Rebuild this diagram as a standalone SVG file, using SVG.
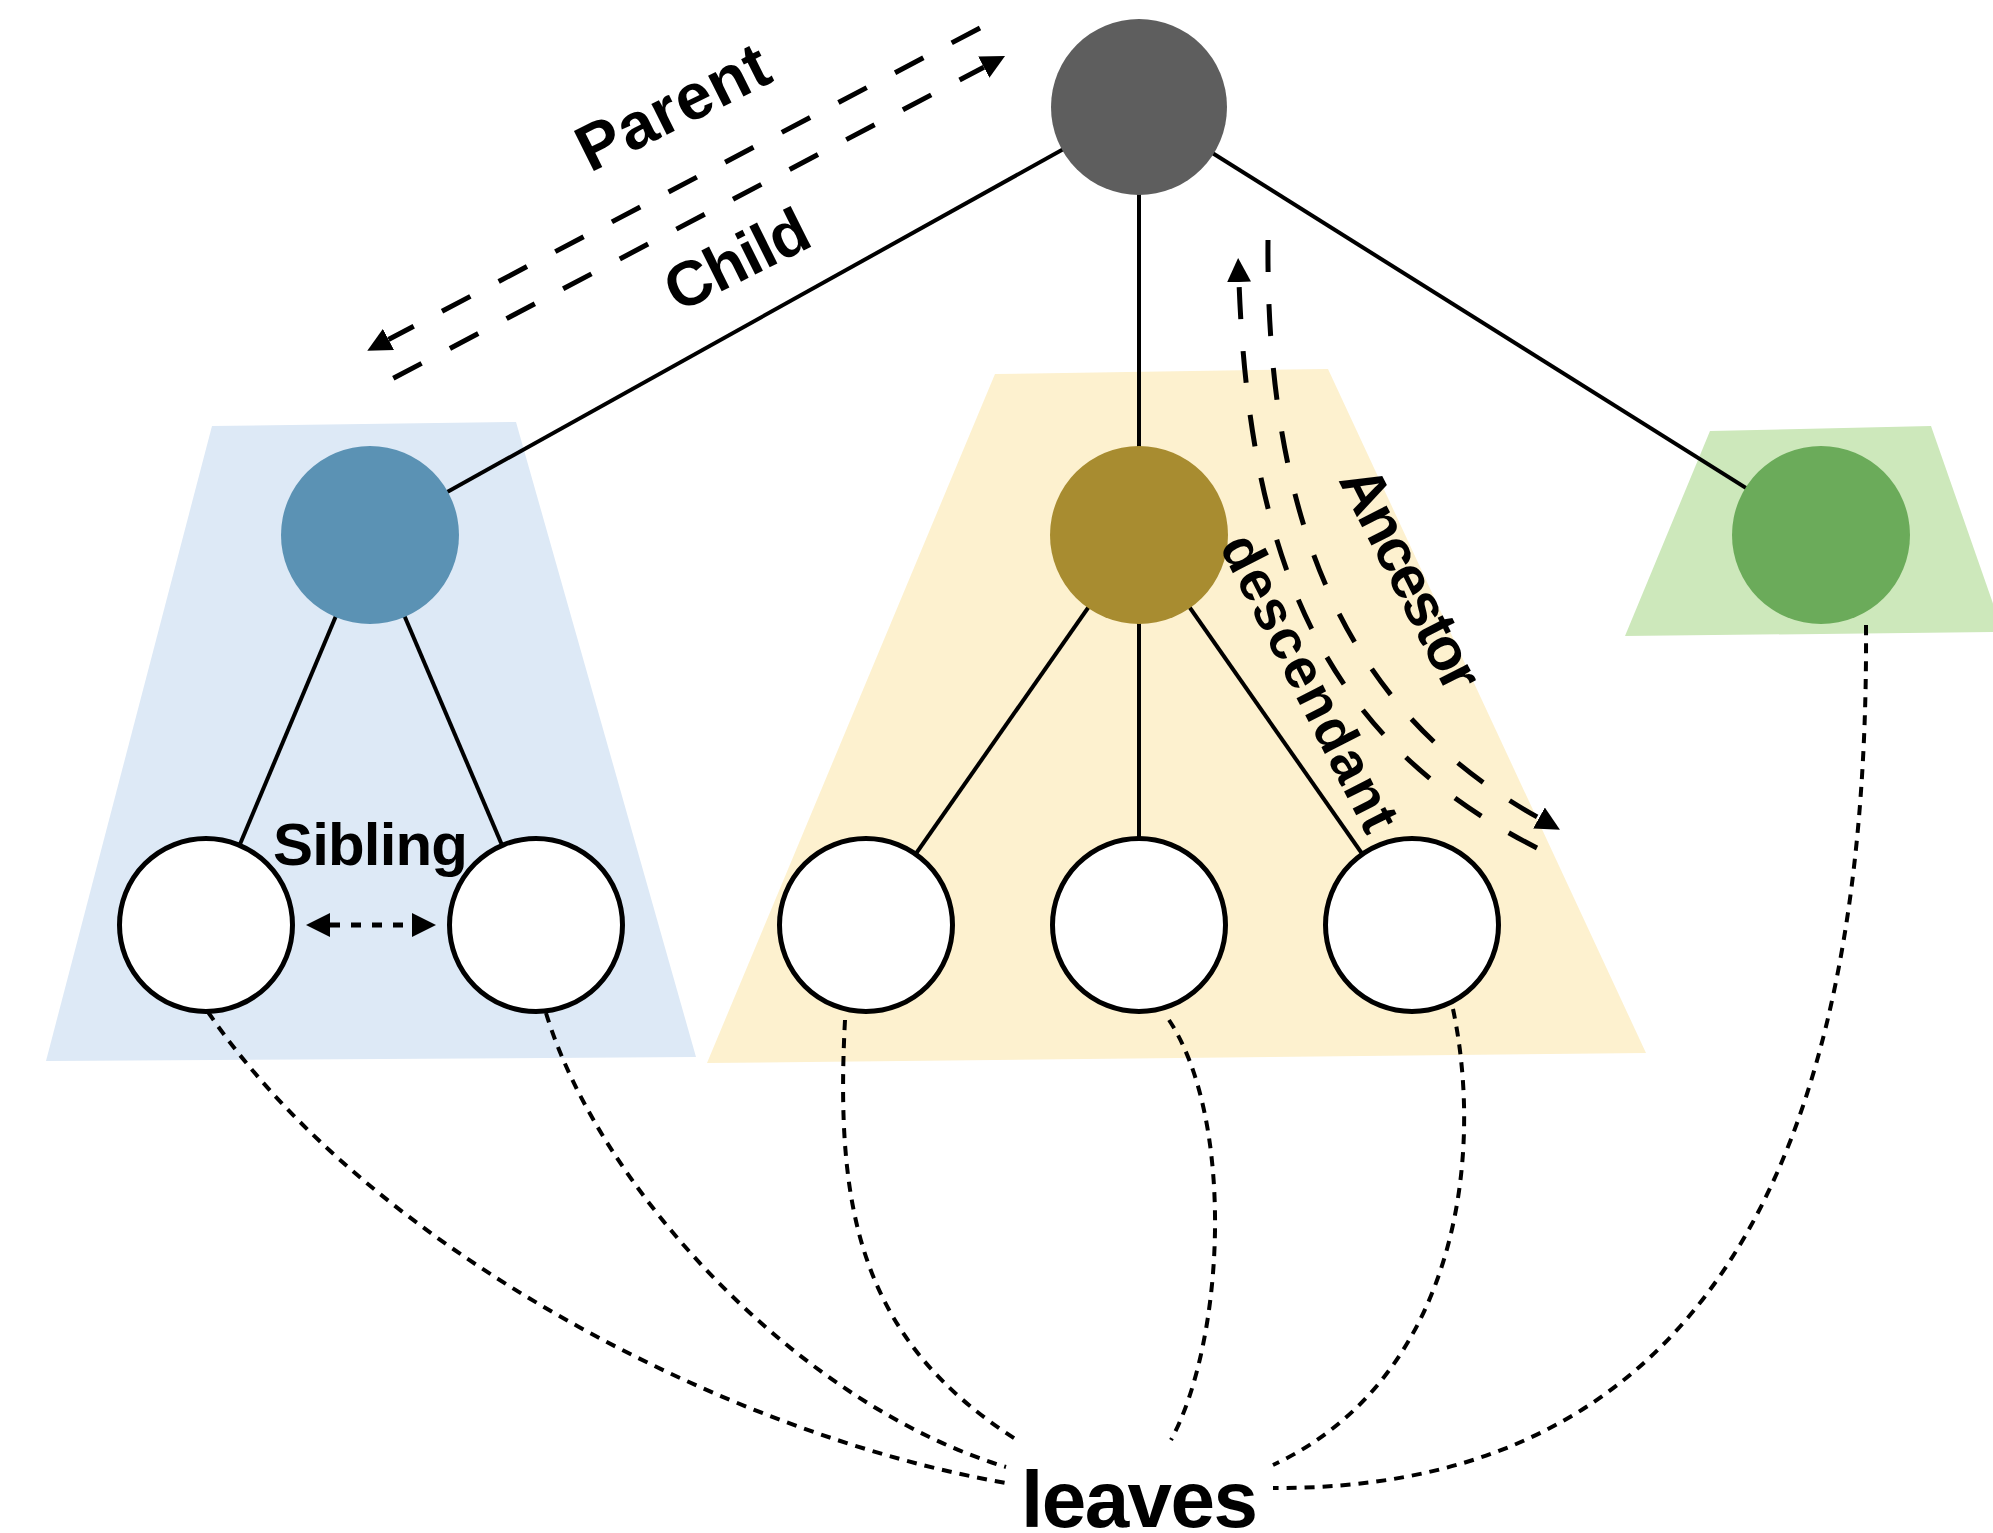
<svg xmlns="http://www.w3.org/2000/svg" width="1993" height="1533" viewBox="0 0 1993 1533">
<defs>
<marker id="arrow" markerUnits="userSpaceOnUse" markerWidth="24" markerHeight="24" viewBox="0 0 24 24" refX="0" refY="12" orient="auto-start-reverse"><path d="M0,0 L24,12 L0,24 z" fill="#000"/></marker>
</defs>
<style>
.edge{stroke:#000;stroke-width:4;fill:none}
.rel{stroke:#000;stroke-width:5;fill:none;stroke-dasharray:32 32}
.leafline{stroke:#000;stroke-width:4;fill:none;stroke-dasharray:10 8}
.sib{stroke:#000;stroke-width:5;fill:none;stroke-dasharray:10 11}
.leaf{fill:#fff;stroke:#000;stroke-width:5}
.lbl{font-family:"Liberation Sans",Arial,Helvetica,sans-serif;font-weight:bold;fill:#000}
</style>
<rect width="1993" height="1533" fill="#fff"/>
<g id="regions">
<polygon id="region-blue" points="212,426 516,422 696,1057 46,1061" fill="#dde9f6"/>
<polygon id="region-gold" points="995,374 1328,369 1646,1053 707,1063" fill="#fdf1cf"/>
<polygon id="region-green" points="1710,431 1931,426 2003,632 1625,636" fill="#cde8bb"/>
</g>
<g id="connectors">
<line class="edge" x1="1139" y1="107" x2="370" y2="535"/>
<line class="edge" x1="1139" y1="107" x2="1139" y2="535"/>
<line class="edge" x1="1139" y1="107" x2="1821" y2="535"/>
<line class="edge" x1="370" y1="535" x2="206" y2="925"/>
<line class="edge" x1="370" y1="535" x2="536" y2="925"/>
<line class="edge" x1="1139" y1="535" x2="866" y2="925"/>
<line class="edge" x1="1139" y1="535" x2="1139" y2="925"/>
<line class="edge" x1="1139" y1="535" x2="1412" y2="925"/>
<path class="rel" d="M980,28 L388.5,339.5" marker-end="url(#arrow)"/>
<path class="rel" d="M393.3,378.3 L983.8,67.2" marker-end="url(#arrow)"/>
<path class="rel" d="M1537,848 C1335,745 1250,580 1239,282" marker-end="url(#arrow)"/>
<path class="rel" d="M1268,240 C1265,580 1385,732 1539,818" marker-end="url(#arrow)"/>
<path class="sib" d="M330,925 L412,925" marker-start="url(#arrow)" marker-end="url(#arrow)"/>
<path class="leafline" d="M208,1012 C370,1250 730,1435 1006,1483"/>
<path class="leafline" d="M546,1013 C600,1190 800,1405 1006,1467"/>
<path class="leafline" d="M845,1020 C835,1210 860,1340 1017,1440"/>
<path class="leafline" d="M1169,1020 C1235,1120 1225,1340 1171,1440"/>
<path class="leafline" d="M1453,1009 C1485,1160 1455,1380 1273,1465"/>
<path class="leafline" d="M1866,625 C1870,1250 1640,1490 1273,1488"/>
</g>
<g id="node-root"><circle cx="1139" cy="107" r="88" fill="#5e5e5e"/></g>
<g id="node-blue"><circle cx="370" cy="535" r="89" fill="#5b92b4"/></g>
<g id="node-gold"><circle cx="1139" cy="535" r="89" fill="#a88c30"/></g>
<g id="node-green"><circle cx="1821" cy="535" r="89" fill="#6bab5a"/></g>
<g id="node-leaf-1"><circle class="leaf" cx="206" cy="925" r="86.5"/></g>
<g id="node-leaf-2"><circle class="leaf" cx="536" cy="925" r="86.5"/></g>
<g id="node-leaf-3"><circle class="leaf" cx="866" cy="925" r="86.5"/></g>
<g id="node-leaf-4"><circle class="leaf" cx="1139" cy="925" r="86.5"/></g>
<g id="node-leaf-5"><circle class="leaf" cx="1412" cy="925" r="86.5"/></g>
<g id="labels">
<text class="lbl" font-size="65" transform="translate(590,173) rotate(-26.5)" textLength="207">Parent</text>
<text class="lbl" font-size="63" transform="translate(678,313) rotate(-26.5)" textLength="153">Child</text>
<text class="lbl" font-size="60" x="273" y="865" textLength="195">Sibling</text>
<text class="lbl" font-size="60" transform="translate(1338,480) rotate(63)" textLength="242">Ancestor</text>
<text class="lbl" font-size="56" transform="translate(1219,546) rotate(63)" textLength="326">descendant</text>
<text class="lbl" font-size="80" x="1021" y="1527" textLength="237">leaves</text>
</g>
</svg>
